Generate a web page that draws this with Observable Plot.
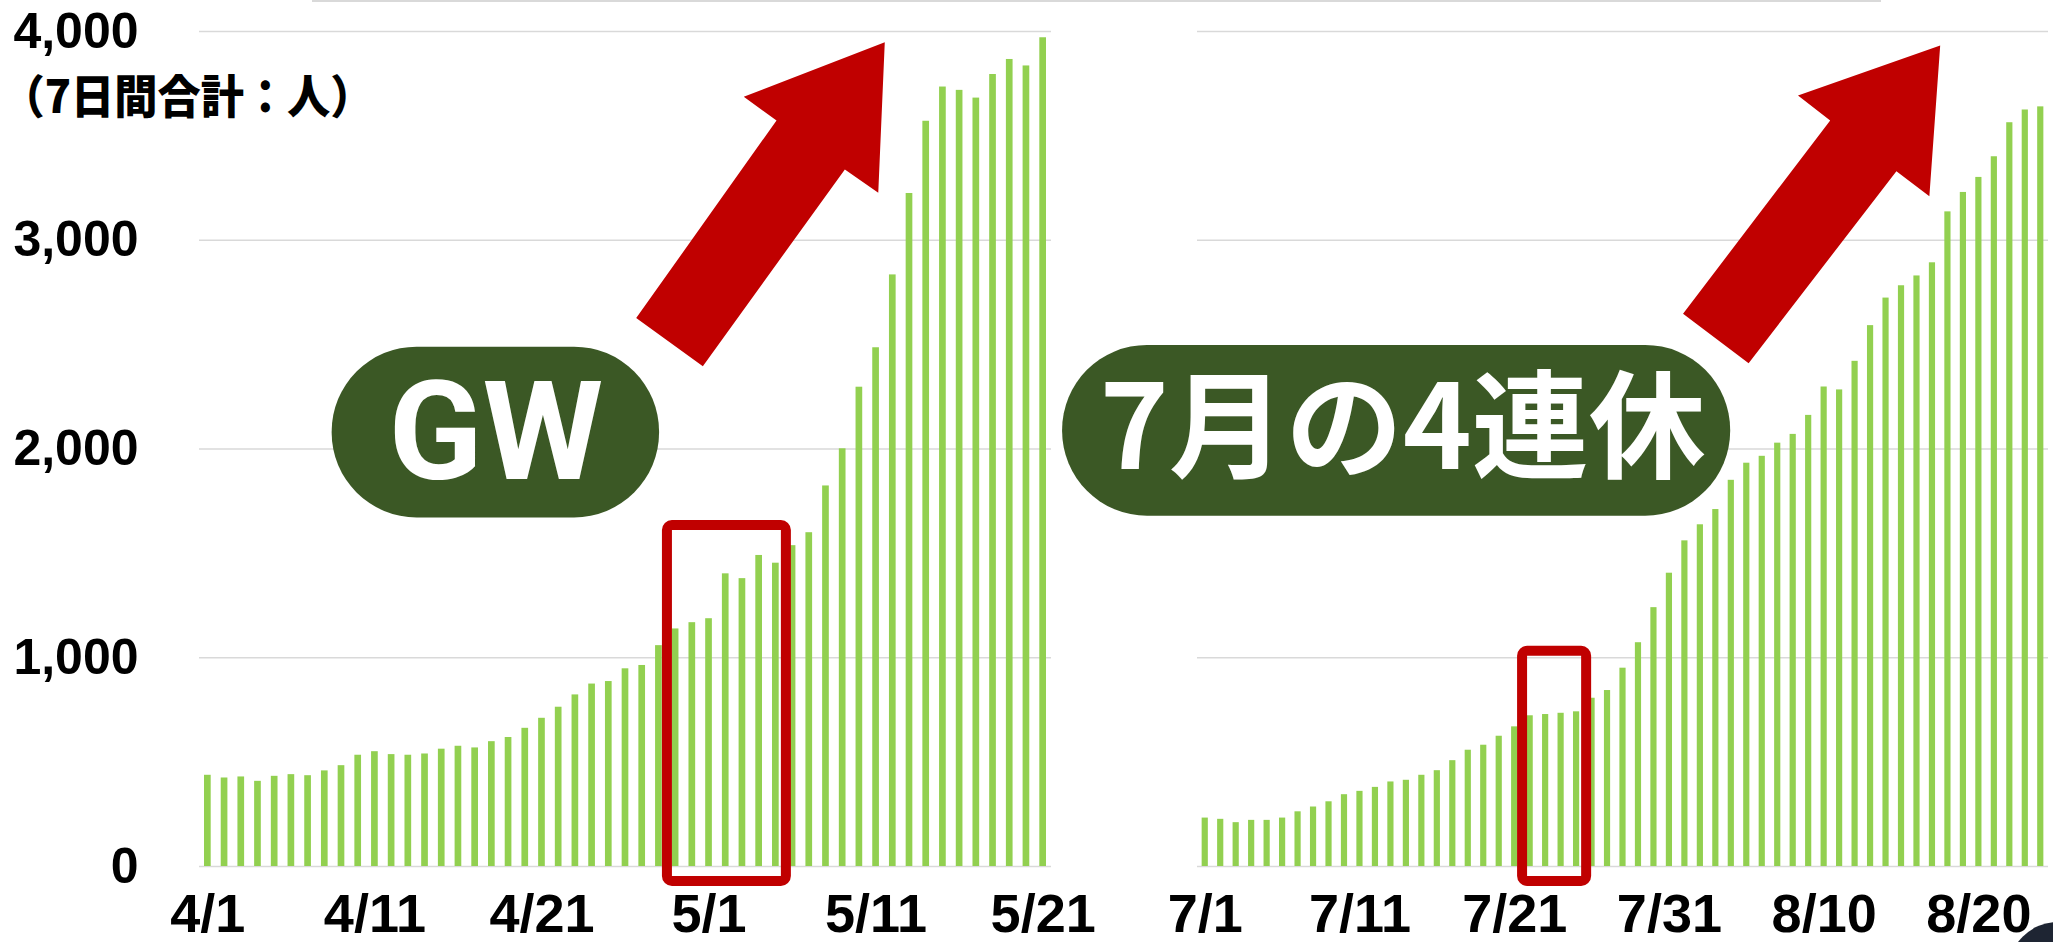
<!DOCTYPE html>
<html><head><meta charset="utf-8">
<script src="https://cdn.jsdelivr.net/npm/d3@7"></script>
<script src="https://cdn.jsdelivr.net/npm/@observablehq/plot@0.6"></script>
<style>
html,body{margin:0;padding:0;background:#fff;}
#wrap{position:relative;width:2053px;height:942px;overflow:hidden;background:#fff;}
#left,#right{position:absolute;top:0;}
#left{left:0;} #right{left:1060px;}
#topline{position:absolute;left:312px;top:0;width:1569px;height:2px;background:#d9d9d9;}
#corner{position:absolute;left:2008px;top:922px;width:100px;height:100px;border-radius:50%;background:#1e2533;}
</style></head><body>
<div id="wrap"><div id="topline"></div><div id="left"></div><div id="right"></div><div id="corner"></div></div>
<script>
// ---- data: GW period (4/1 - 5/21), 7-day totals ----
const gwDates = ["4/1","4/2","4/3","4/4","4/5","4/6","4/7","4/8","4/9","4/10",
  "4/11","4/12","4/13","4/14","4/15","4/16","4/17","4/18","4/19","4/20",
  "4/21","4/22","4/23","4/24","4/25","4/26","4/27","4/28","4/29","4/30",
  "5/1","5/2","5/3","5/4","5/5","5/6","5/7","5/8","5/9","5/10",
  "5/11","5/12","5/13","5/14","5/15","5/16","5/17","5/18","5/19","5/20","5/21"];
const gwValues = [437,424,429,408,432,440,435,458,483,533,
  550,536,533,539,562,576,568,598,618,662,
  710,763,822,874,886,947,963,1058,1138,1168,
  1187,1402,1379,1490,1453,1537,1599,1823,2001,2296,
  2485,2834,3224,3570,3734,3718,3681,3794,3866,3835,3970];
const gwTicks = ["4/1","4/11","4/21","5/1","5/11","5/21"];

// ---- data: July 4-day holiday period (7/1 - 8/24) ----
const julDates = ["7/1","7/2","7/3","7/4","7/5","7/6","7/7","7/8","7/9","7/10",
  "7/11","7/12","7/13","7/14","7/15","7/16","7/17","7/18","7/19","7/20",
  "7/21","7/22","7/23","7/24","7/25","7/26","7/27","7/28","7/29","7/30","7/31",
  "8/1","8/2","8/3","8/4","8/5","8/6","8/7","8/8","8/9","8/10",
  "8/11","8/12","8/13","8/14","8/15","8/16","8/17","8/18","8/19","8/20",
  "8/21","8/22","8/23","8/24"];
const julValues = [232,226,210,221,221,232,262,285,310,344,
  360,379,405,413,437,459,507,557,581,624,
  669,722,728,734,741,806,843,950,1072,1240,1405,
  1560,1637,1710,1850,1932,1965,2028,2070,2161,2297,
  2283,2420,2591,2723,2782,2829,2892,3136,3229,3301,
  3400,3563,3624,3639];
const julTicks = ["7/1","7/11","7/21","7/31","8/10","8/20"];

const yTicks = [0,1000,2000,3000,4000];
const yLabel = "（7日間合計：人）";
const gwLabel = "GW";
const julLabel = "7月の4連休";

// ---- annotations (in data units: day index, persons) ----
const gwBox = {x1: 27.51, x2: 34.63, y1: -72, y2: 1633};
const julBox = {x1: 20.51, x2: 24.65, y1: -72, y2: 1031};
const gwPill = {x1: 7.44, x2: 27.04, y1: 1670, y2: 2488, cx: 17.24, cy: 2070, label: gwLabel};
const julPill = {x1: -9.22, x2: 33.96, y1: 1678, y2: 2496, cx: 12.76, cy: 2085, label: julLabel};
const gwArrow = [[40.52,3949],[40.13,3227],[38.13,3339],[29.63,2397],[25.64,2627],[34.04,3574],[32.08,3687]];
const julArrow = [[47.50,3933],[46.80,3211],[44.67,3331],[35.12,2411],[30.88,2648],[40.39,3574],[38.31,3693]];

const GREEN = "#92d050", RED = "#c00000", PILL = "#3b5825", GRID = "#d9d9d9";
const NUMFONT = "'Liberation Sans', Arial, sans-serif";

function panel({dates, values, ticks, box, pill, arrow, width, marginLeft, marginRight, showY, pillFont, pillSize}) {
  const rows = values.map((v, i) => ({i, date: dates[i], value: v}));
  const marks = [
    Plot.gridY({ticks: yTicks, stroke: GRID, strokeOpacity: 1, strokeWidth: 1.5}),
    Plot.rectY(rows, {x1: d => d.i - 0.2, x2: d => d.i + 0.2, y: "value", fill: GREEN}),
    Plot.rect([box], {x1: "x1", x2: "x2", y1: "y1", y2: "y2", fill: "none", stroke: RED, strokeWidth: 10, rx: 5}),
    Plot.rect([pill], {x1: "x1", x2: "x2", y1: "y1", y2: "y2", fill: PILL, rx: 85}),
    Plot.text([pill], {x: "cx", y: "cy", text: "label", fill: "#fff", fontSize: pillSize, fontWeight: "bold", fontFamily: pillFont}),
    Plot.line(arrow.map(([x, y]) => ({x, y})), {x: "x", y: "y", fill: RED, stroke: "none", curve: "linear-closed"}),
    Plot.axisX({ticks: ticks.map(t => dates.indexOf(t)), tickFormat: i => dates[i], tickSize: 0, tickPadding: 27,
      fontSize: 54, fontWeight: "bold", fontFamily: NUMFONT, label: null})
  ];
  if (showY) {
    marks.push(Plot.axisY({ticks: yTicks, tickFormat: d3.format(","), tickSize: 0, tickPadding: 61,
      fontSize: 50, fontWeight: "bold", fontFamily: NUMFONT, label: null}));
    marks.push(Plot.text([yLabel], {frameAnchor: "top-left", dx: -198, dy: 67, text: d => d, textAnchor: "start",
      lineAnchor: "middle", fontSize: 46, fontWeight: 900, fontFamily: "'Noto Sans CJK JP', sans-serif", fill: "#000"}));
  }
  return Plot.plot({
    width, height: 942, marginLeft, marginRight, marginTop: 31, marginBottom: 76,
    x: {domain: [-0.5, values.length - 0.5]},
    y: {domain: [0, 4000], axis: showY ? undefined : null},
    style: {overflow: "visible", background: "transparent", color: "#000", fontFamily: NUMFONT},
    marks
  });
}

const left = panel({dates: gwDates, values: gwValues, ticks: gwTicks, box: gwBox, pill: gwPill, arrow: gwArrow,
  width: 1060, marginLeft: 199, marginRight: 9, showY: true, pillFont: "Roboto, sans-serif", pillSize: 138});
const right = panel({dates: julDates, values: julValues, ticks: julTicks, box: julBox, pill: julPill, arrow: julArrow,
  width: 993, marginLeft: 137, marginRight: 5, showY: false, pillFont: "'Noto Sans CJK JP', sans-serif", pillSize: 117});
document.getElementById("left").appendChild(left);
document.getElementById("right").appendChild(right);

left.querySelectorAll("text").forEach(t => {
  if (t.textContent === yLabel) { t.setAttribute("textLength", 372); t.setAttribute("lengthAdjust", "spacingAndGlyphs"); }
});
</script>
</body></html>
